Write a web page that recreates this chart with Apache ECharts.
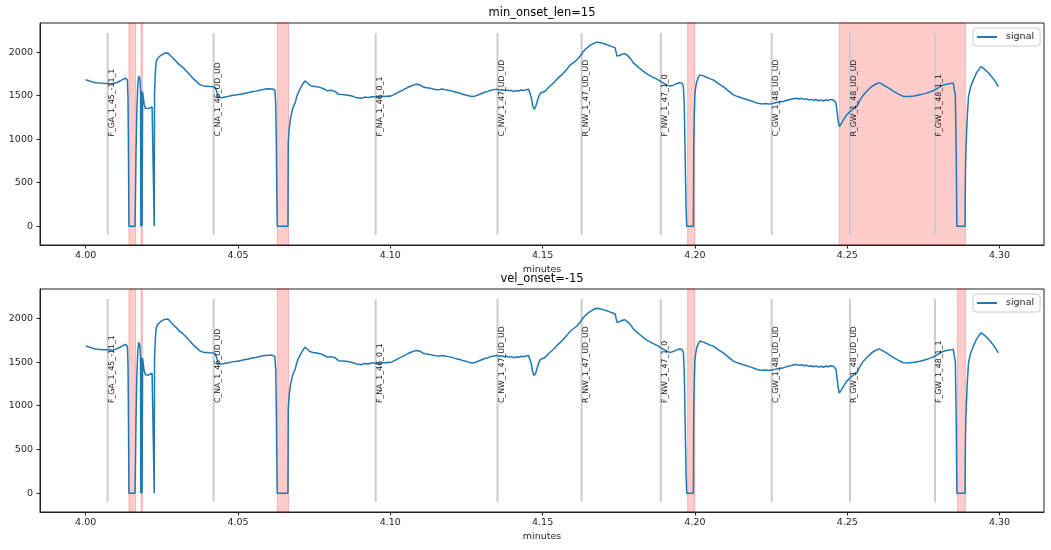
<!DOCTYPE html>
<html><head><meta charset="utf-8">
<script src="https://cdn.jsdelivr.net/npm/echarts@6/dist/echarts.min.js"></script>
<style>html,body{margin:0;padding:0;background:#fff}#c{width:1051px;height:550px}</style>
</head><body><div id="c"></div>
<script>
// ---------- data ----------
const time = [
4.0000,4.0008,4.0015,4.0022,4.0028,4.0034,4.0040,4.0046,4.0052,4.0058,4.0064,4.0070,
4.0076,4.0082,4.0088,4.0094,4.0100,4.0106,4.0112,4.0118,4.0124,4.0130,4.0134,4.0137,
4.0139,4.0140,4.0142,4.0162,4.0163,4.0165,4.0168,4.0171,4.0174,4.0176,4.0178,4.0180,
4.0181,4.0182,4.0183,4.0184,4.0185,4.0186,4.0187,4.0189,4.0192,4.0196,4.0200,4.0206,
4.0212,4.0218,4.0222,4.0224,4.0225,4.0226,4.0228,4.0231,4.0235,4.0240,4.0246,4.0252,
4.0258,4.0264,4.0270,4.0276,4.0282,4.0290,4.0299,4.0306,4.0312,4.0320,4.0326,4.0332,
4.0342,4.0352,4.0364,4.0375,4.0386,4.0396,4.0408,4.0419,4.0426,4.0430,4.0435,4.0441,
4.0447,4.0452,4.0458,4.0463,4.0469,4.0474,4.0480,4.0485,4.0491,4.0496,4.0502,4.0507,
4.0513,4.0518,4.0524,4.0529,4.0535,4.0540,4.0546,4.0551,4.0557,4.0562,4.0568,4.0573,
4.0579,4.0584,4.0590,4.0595,4.0601,4.0606,4.0612,4.0617,4.0621,4.0624,4.0626,4.0628,
4.0629,4.0664,4.0665,4.0668,4.0672,4.0676,4.0680,4.0684,4.0688,4.0692,4.0697,4.0702,
4.0707,4.0712,4.0716,4.0720,4.0724,4.0728,4.0732,4.0736,4.0741,4.0746,4.0752,4.0758,
4.0764,4.0770,4.0776,4.0782,4.0788,4.0794,4.0800,4.0806,4.0812,4.0818,4.0824,4.0830,
4.0836,4.0842,4.0848,4.0854,4.0860,4.0866,4.0872,4.0880,4.0888,4.0896,4.0904,4.0912,
4.0920,4.0928,4.0936,4.0944,4.0952,4.0960,4.0968,4.0976,4.0984,4.0992,4.1000,4.1010,
4.1020,4.1030,4.1040,4.1050,4.1060,4.1070,4.1080,4.1088,4.1097,4.1106,4.1115,4.1124,
4.1132,4.1140,4.1150,4.1160,4.1170,4.1180,4.1190,4.1200,4.1210,4.1220,4.1229,4.1240,
4.1250,4.1260,4.1270,4.1280,4.1290,4.1300,4.1310,4.1320,4.1330,4.1340,4.1349,4.1358,
4.1366,4.1374,4.1382,4.1390,4.1398,4.1406,4.1414,4.1422,4.1430,4.1438,4.1446,4.1454,
4.1460,4.1463,4.1467,4.1472,4.1477,4.1482,4.1487,4.1492,4.1500,4.1508,4.1520,4.1535,
4.1550,4.1568,4.1580,4.1590,4.1600,4.1612,4.1624,4.1634,4.1645,4.1655,4.1665,4.1678,
4.1690,4.1700,4.1710,4.1720,4.1730,4.1738,4.1741,4.1744,4.1752,4.1762,4.1770,4.1780,
4.1790,4.1798,4.1810,4.1820,4.1831,4.1845,4.1860,4.1875,4.1890,4.1905,4.1918,4.1930,
4.1940,4.1951,4.1958,4.1962,4.1965,4.1968,4.1971,4.1973,4.1995,4.1996,4.1998,4.2000,
4.2005,4.2010,4.2016,4.2022,4.2028,4.2040,4.2050,4.2060,4.2075,4.2093,4.2110,4.2126,
4.2140,4.2150,4.2159,4.2168,4.2178,4.2188,4.2196,4.2204,4.2212,4.2222,4.2232,4.2242,
4.2252,4.2262,4.2272,4.2282,4.2292,4.2302,4.2312,4.2322,4.2332,4.2342,4.2350,4.2358,
4.2366,4.2374,4.2382,4.2390,4.2398,4.2406,4.2414,4.2422,4.2430,4.2438,4.2446,4.2454,
4.2460,4.2463,4.2466,4.2470,4.2474,4.2480,4.2488,4.2498,4.2510,4.2520,4.2531,4.2542,
4.2553,4.2567,4.2580,4.2593,4.2605,4.2620,4.2635,4.2650,4.2665,4.2684,4.2700,4.2720,
4.2739,4.2760,4.2775,4.2788,4.2800,4.2816,4.2830,4.2848,4.2852,4.2855,4.2858,4.2860,
4.2887,4.2888,4.2890,4.2894,4.2898,4.2905,4.2914,4.2925,4.2939,4.2950,4.2960,4.2969,
4.2982,4.2996
];
const signal = [
1685,1676,1668,1658,1656,1650,1652,1645,1650,1642,1648,1640,
1646,1638,1645,1642,1650,1658,1668,1680,1693,1702,1706,1680,
1450,1050,0,0,250,800,1350,1620,1725,1745,1690,1560,
0,0,1550,1540,0,0,1545,1480,1400,1355,1338,1352,
1362,1372,1382,1388,0,1530,1720,1880,1925,1942,1962,1978,
1988,1996,1992,1975,1948,1918,1888,1860,1842,1822,1800,1778,
1740,1700,1662,1628,1613,1610,1606,1603,1595,1550,1485,1463,
1476,1468,1486,1478,1493,1486,1502,1494,1507,1499,1513,1505,
1521,1511,1529,1521,1536,1529,1546,1538,1553,1546,1561,1554,
1569,1561,1576,1567,1579,1569,1577,1567,1565,1400,900,200,
0,0,960,1120,1230,1300,1358,1392,1420,1480,1530,1566,
1600,1630,1652,1670,1660,1646,1632,1620,1628,1610,1616,1604,
1602,1596,1590,1578,1568,1556,1548,1562,1568,1550,1530,1516,
1510,1513,1504,1509,1500,1503,1494,1490,1478,1476,1470,1480,
1484,1478,1486,1491,1484,1492,1487,1494,1490,1497,1494,1510,
1528,1548,1562,1582,1600,1615,1628,1632,1624,1604,1594,1590,
1585,1578,1572,1570,1576,1570,1562,1556,1545,1536,1529,1514,
1506,1496,1490,1498,1512,1526,1540,1550,1562,1570,1576,1566,
1572,1560,1566,1556,1562,1548,1560,1554,1566,1560,1570,1574,
1568,1480,1390,1345,1370,1430,1490,1528,1540,1552,1598,1643,
1700,1758,1808,1850,1878,1910,1960,2010,2048,2075,2098,2116,
2108,2100,2088,2074,2062,2050,2005,1955,1962,1978,1984,1958,
1920,1878,1840,1812,1780,1746,1716,1690,1660,1628,1610,1622,
1640,1650,1640,1612,1400,800,200,0,0,914,1300,1529,
1650,1702,1740,1735,1728,1710,1694,1682,1645,1605,1556,1510,
1490,1480,1468,1460,1448,1436,1426,1416,1410,1406,1410,1404,
1408,1416,1424,1430,1436,1448,1456,1466,1472,1462,1470,1458,
1464,1450,1458,1446,1456,1442,1452,1440,1454,1446,1458,1452,
1460,1420,1336,1220,1144,1175,1225,1279,1320,1350,1374,1450,
1510,1560,1605,1632,1651,1622,1590,1556,1525,1492,1490,1498,
1510,1530,1548,1567,1594,1624,1636,1645,1630,1500,800,0,
0,600,914,1250,1490,1600,1682,1765,1835,1808,1776,1740,
1685,1605
];
const eventTimes  = [4.0072, 4.0420, 4.0952, 4.1352, 4.1628, 4.1888, 4.2252, 4.2509, 4.2788];
const eventLabels = ['F_GA_1_45_-11_1','C_NA_1_46_UD_UD','F_NA_1_46_0_1','C_NW_1_47_UD_UD',
                     'R_NW_1_47_UD_UD','F_NW_1_47_1_0','C_GW_1_48_UD_UD','R_GW_1_48_UD_UD','F_GW_1_48_1_1'];
const spansTop    = [[4.0142,4.0164],[4.0182,4.0186],[4.0629,4.0666],[4.1976,4.2000],[4.2474,4.2888]];
const spansBottom = [[4.0142,4.0164],[4.0182,4.0186],[4.0629,4.0666],[4.1976,4.2000],[4.2862,4.2888]];
const xTicks = [4.00, 4.05, 4.10, 4.15, 4.20, 4.25, 4.30];
const yTicks = [0, 500, 1000, 1500, 2000];
const panelTitles = ['min_onset_len=15', 'vel_onset=-15'];
const panelSpans = [spansTop, spansBottom];

// ---------- chart ----------
const FONT = '"DejaVu Sans", sans-serif';
const VLINE_MIN = -100, VLINE_MAX = 2220, LABEL_Y = 1030;
const X_MIN = 3.985, X_MAX = 4.3146, Y_MIN = -216, Y_MAX = 2336;
const gridsPos = [{left:40, top:23, width:1004, height:222}, {left:40, top:289, width:1004, height:223}];

const chart = echarts.init(document.getElementById('c'));
const pts = time.map((x, i) => [x, signal[i]]);
const evData = eventTimes.map(x => [x, LABEL_Y]);

function vlineRender(params, api) {
  const x = api.value(0);
  const p1 = api.coord([x, VLINE_MIN]);
  const p2 = api.coord([x, VLINE_MAX]);
  return {type:'line', shape:{x1:p1[0], y1:p1[1], x2:p2[0], y2:p2[1]},
          style:{stroke:'#cccccc', lineWidth:2}};
}
function labelRender(params, api) {
  const p = api.coord([api.value(0), api.value(1)]);
  return {type:'text', x:p[0] + 0.5, y:p[1], rotation:Math.PI/2,
          style:{text:eventLabels[params.dataIndex], fill:'#111', font:'7.8px ' + FONT,
                 align:'left', verticalAlign:'top'}};
}

const grid = [], xAxis = [], yAxis = [], series = [], legend = [], graphic = [];
gridsPos.forEach((g, i) => {
  grid.push(Object.assign({show:true, borderColor:'#222', borderWidth:1, backgroundColor:'transparent'}, g));
  xAxis.push({type:'value', gridIndex:i, min:X_MIN, max:X_MAX,
    axisLine:{show:true, onZero:false, lineStyle:{color:'#222'}},
    axisTick:{show:true, customValues:xTicks, length:3.5, lineStyle:{color:'#222'}},
    axisLabel:{customValues:xTicks, formatter:v => v.toFixed(2), fontFamily:FONT, fontSize:9.5, color:'#262626', margin:6},
    splitLine:{show:false},
    name:'minutes', nameLocation:'middle', nameGap:20,
    nameTextStyle:{fontFamily:FONT, fontSize:9.5, color:'#262626'}});
  yAxis.push({type:'value', gridIndex:i, min:Y_MIN, max:Y_MAX,
    axisLine:{show:true, onZero:false, lineStyle:{color:'#222'}},
    axisTick:{show:true, customValues:yTicks, length:3.5, lineStyle:{color:'#222'}},
    axisLabel:{customValues:yTicks, formatter:v => String(v), fontFamily:FONT, fontSize:9.5, color:'#262626', margin:7},
    splitLine:{show:false}});
  series.push({type:'custom', name:'events', xAxisIndex:i, yAxisIndex:i, z:1, silent:true,
    renderItem:vlineRender, data:evData, encode:{x:0, y:1}, clip:false});
  series.push({type:'line', name:'spans', xAxisIndex:i, yAxisIndex:i, z:2, data:[], silent:true,
    markArea:{silent:true, itemStyle:{color:'rgba(255,0,0,0.2)', borderColor:'rgba(255,0,0,0.22)', borderWidth:1},
      label:{show:false},
      data:panelSpans[i].map(s => [{xAxis:s[0]}, {xAxis:s[1]}])}});
  series.push({type:'line', name:'signal', xAxisIndex:i, yAxisIndex:i, z:3, data:pts,
    symbol:'none', showSymbol:false, lineStyle:{color:'#1f77b4', width:1.5}, itemStyle:{color:'#1f77b4'}});
  series.push({type:'custom', name:'eventLabels', xAxisIndex:i, yAxisIndex:i, z:4, silent:true,
    renderItem:labelRender, data:evData, encode:{x:0, y:1}, clip:false});
  legend.push({data:[{name:'signal', icon:'rect'}], left:973, top:g.top + 5, orient:'vertical',
    padding:[4,6,4,4], itemWidth:20, itemHeight:2, backgroundColor:'#fff',
    borderColor:'#cccccc', borderWidth:1, borderRadius:3,
    textStyle:{fontFamily:FONT, fontSize:9.5, color:'#262626', padding:[0,0,0,4]}});
  graphic.push({type:'text', x:g.left + g.width/2, y:g.top - 10,
    style:{text:panelTitles[i], font:'11.5px ' + FONT, fill:'#000', align:'center', verticalAlign:'middle'}});
});

chart.setOption({animation:false, backgroundColor:'#fff', grid, xAxis, yAxis, series, legend, graphic});
</script></body></html>
